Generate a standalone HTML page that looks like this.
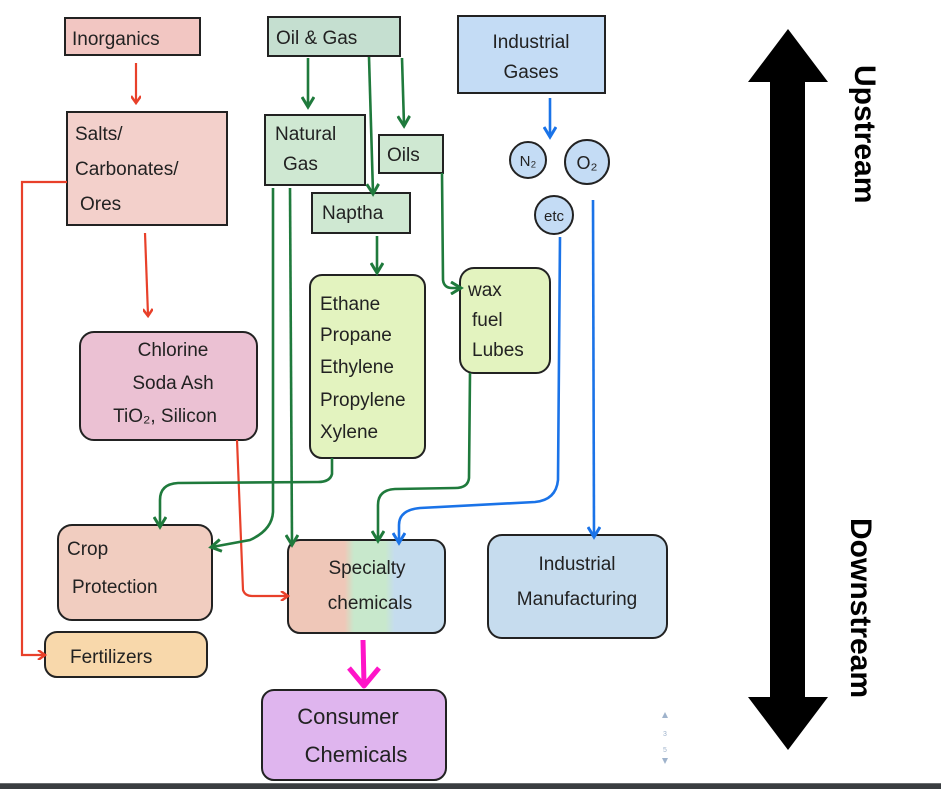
<!DOCTYPE html>
<html><head><meta charset="utf-8"><style>
html,body{margin:0;padding:0;background:#fff;}
svg{display:block;}
text{font-family:"Liberation Sans",sans-serif;fill:#222;}
</style></head><body>
<svg width="941" height="789" viewBox="0 0 941 789" xmlns="http://www.w3.org/2000/svg">
<defs>
<marker id="ar" markerWidth="10" markerHeight="10" refX="7" refY="5" orient="auto" markerUnits="userSpaceOnUse"><path d="M1,0 L8,5 L1,10" fill="none" stroke="#e8402a" stroke-width="2.5"/></marker>
<marker id="ag" markerWidth="14" markerHeight="14" refX="10" refY="7" orient="auto" markerUnits="userSpaceOnUse"><path d="M1,1 L11,7 L1,13" fill="none" stroke="#1f7a3c" stroke-width="3"/></marker>
<marker id="ab" markerWidth="14" markerHeight="14" refX="10" refY="7" orient="auto" markerUnits="userSpaceOnUse"><path d="M1,1 L11,7 L1,13" fill="none" stroke="#1a73e8" stroke-width="3"/></marker>
<linearGradient id="sp" x1="0" x2="1" y1="0" y2="0">
<stop offset="0" stop-color="#efc7b8"/><stop offset="0.36" stop-color="#efc7b8"/><stop offset="0.42" stop-color="#c8e8cc"/><stop offset="0.62" stop-color="#c8e8cc"/><stop offset="0.68" stop-color="#c5dcee"/><stop offset="1" stop-color="#c5dcee"/></linearGradient>
</defs>
<rect width="941" height="789" fill="#fff"/>
<g stroke="#222" stroke-width="2">
<rect x="65" y="18" width="135" height="37" fill="#f2c6c2"/>
<rect x="268" y="17" width="132" height="39" fill="#c5dfd0"/>
<rect x="458" y="16" width="147" height="77" fill="#c4dcf5"/>
<rect x="67" y="112" width="160" height="113" fill="#f3d0cb"/>
<rect x="265" y="115" width="100" height="70" fill="#cfe8d2"/>
<rect x="379" y="135" width="64" height="38" fill="#cfe8d2"/>
<rect x="312" y="193" width="98" height="40" fill="#cfe8d2"/>
<circle cx="528" cy="160" r="18" fill="#c4dcf5"/>
<circle cx="587" cy="162" r="22" fill="#c4dcf5"/>
<circle cx="554" cy="215" r="19" fill="#c4dcf5"/>
<rect x="310" y="275" width="115" height="183" rx="12" fill="#e3f3bf"/>
<rect x="460" y="268" width="90" height="105" rx="14" fill="#e3f3bf"/>
<rect x="80" y="332" width="177" height="108" rx="14" fill="#ebc1d3"/>
<rect x="58" y="525" width="154" height="95" rx="14" fill="#f1cdc0"/>
<rect x="288" y="540" width="157" height="93" rx="12" fill="url(#sp)"/>
<rect x="488" y="535" width="179" height="103" rx="14" fill="#c6dcee"/>
<rect x="45" y="632" width="162" height="45" rx="12" fill="#f8d8ab"/>
<rect x="262" y="690" width="184" height="90" rx="12" fill="#dfb5ee"/>
</g>
<g font-size="19">
<text x="72" y="45">Inorganics</text>
<text x="276" y="44">Oil &amp; Gas</text>
<text x="531" y="48" text-anchor="middle">Industrial</text>
<text x="531" y="78" text-anchor="middle">Gases</text>
<text x="75" y="140">Salts/</text>
<text x="75" y="175">Carbonates/</text>
<text x="80" y="210">Ores</text>
<text x="275" y="140">Natural</text>
<text x="283" y="170">Gas</text>
<text x="387" y="161">Oils</text>
<text x="322" y="219">Naptha</text>
<text x="320" y="310">Ethane</text>
<text x="320" y="341">Propane</text>
<text x="320" y="373">Ethylene</text>
<text x="320" y="406">Propylene</text>
<text x="320" y="438">Xylene</text>
<text x="468" y="296">wax</text>
<text x="472" y="326">fuel</text>
<text x="472" y="356">Lubes</text>
<text x="173" y="356" text-anchor="middle">Chlorine</text>
<text x="173" y="389" text-anchor="middle">Soda Ash</text>
<text x="165" y="422" text-anchor="middle">TiO₂, Silicon</text>
<text x="67" y="555">Crop</text>
<text x="72" y="593">Protection</text>
<text x="367" y="574" text-anchor="middle">Specialty</text>
<text x="370" y="609" text-anchor="middle">chemicals</text>
<text x="577" y="570" text-anchor="middle">Industrial</text>
<text x="577" y="605" text-anchor="middle">Manufacturing</text>
<text x="70" y="663">Fertilizers</text>
<text x="348" y="724" text-anchor="middle" font-size="22">Consumer</text>
<text x="356" y="762" text-anchor="middle" font-size="22">Chemicals</text>
<text x="528" y="166" text-anchor="middle" font-size="15">N₂</text>
<text x="587" y="169" text-anchor="middle" font-size="18">O₂</text>
<text x="554" y="221" text-anchor="middle" font-size="15">etc</text>
</g>
<g fill="none" stroke-width="2.2" stroke="#e8402a">
<path d="M136,63 L136,102" marker-end="url(#ar)"/>
<path d="M145,233 L148,315" marker-end="url(#ar)"/>
<path d="M67,182 L22,182 L22,655 L44,655" marker-end="url(#ar)"/>
<path d="M237,440 L243,590 Q245,596 252,596 L287,596" marker-end="url(#ar)"/>
</g>
<g fill="none" stroke-width="2.6" stroke="#1f7a3c">
<path d="M308,58 L308,106" marker-end="url(#ag)"/>
<path d="M369,57 L373,193" marker-end="url(#ag)"/>
<path d="M402,58 L404,125" marker-end="url(#ag)"/>
<path d="M377,236 L377,272" marker-end="url(#ag)"/>
<path d="M442,173 L443,280 Q444,288 452,288 L460,288" marker-end="url(#ag)"/>
<path d="M273,188 L273,512 Q272,530 250,540 L212,547" marker-end="url(#ag)"/>
<path d="M290,188 L292,544" marker-end="url(#ag)"/>
<path d="M332,458 L332,474 Q330,482 318,482 L178,483 Q160,484 160,500 L160,526" marker-end="url(#ag)"/>
<path d="M470,373 L469,478 Q468,488 455,488 L395,489 Q378,490 378,505 L378,540" marker-end="url(#ag)"/>
</g>
<g fill="none" stroke-width="2.6" stroke="#1a73e8">
<path d="M550,98 L550,136" marker-end="url(#ab)"/>
<path d="M560,237 L558,480 Q556,500 535,502 L420,508 Q399,510 399,525 L399,542" marker-end="url(#ab)"/>
<path d="M593,200 L594,536" marker-end="url(#ab)"/>
</g>
<path d="M363,640 L364,684" stroke="#ff14c8" stroke-width="5" fill="none"/>
<path d="M349,668 L364,686 L379,668" stroke="#ff14c8" stroke-width="5" fill="none" stroke-linejoin="round"/>
<polygon points="788,29 828,82 805,82 805,697 828,697 788,750 748,697 770,697 770,82 748,82" fill="#000"/>
<text transform="translate(855,65) rotate(90)" font-size="30" font-weight="bold" style="fill:#000">Upstream</text>
<text transform="translate(851,518) rotate(90)" font-size="30" font-weight="bold" style="fill:#000">Downstream</text>
<g fill="#9fb3cc"><polygon points="662,718 668,718 665,712"/><polygon points="662,758 668,758 665,764"/></g>
<text x="665" y="736" font-size="7" text-anchor="middle" style="fill:#9fb3cc">3</text>
<text x="665" y="752" font-size="7" text-anchor="middle" style="fill:#9fb3cc">5</text>
<rect x="0" y="783" width="941" height="6" fill="#3a3d40"/>
<rect x="0" y="783" width="941" height="1" fill="#6b6e70"/>
</svg>
</body></html>
